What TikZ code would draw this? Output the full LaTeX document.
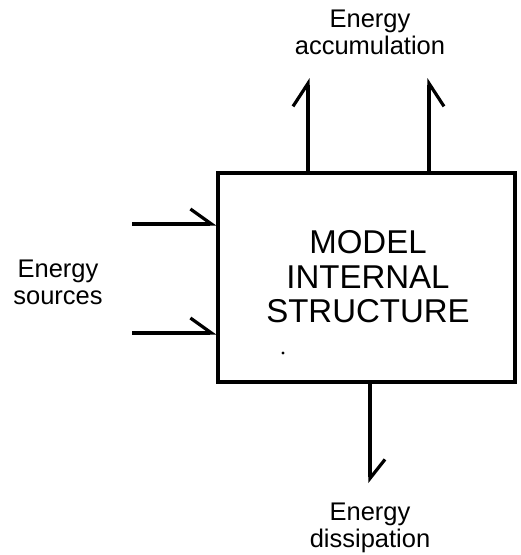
\documentclass[tikz,border=0pt]{standalone}
\usepackage{fontspec}
\setmainfont{Liberation Sans}
\usetikzlibrary{arrows.meta}
\begin{document}
\begin{tikzpicture}[x=1pt,y=-1pt,
  line/.style={line width=3.2pt},
  harpL/.style={line, -{Straight Barb[left,length=#1,width=2*15pt,line width=3.2pt]}},
  harpR/.style={line, -{Straight Barb[right,length=#1,width=2*15pt,line width=3.2pt]}},
  lbl/.style={align=center, font=\fontsize{25.5}{27}\selectfont, inner sep=0pt},
  boxtxt/.style={align=center, font=\fontsize{33}{34.5}\selectfont, inner sep=0pt}]
\useasboundingbox (0,0) rectangle (521,555);
\node[draw, line width=3.2pt, minimum width=297pt, minimum height=209pt, inner sep=0pt] (box) at (366.5,277.5) {};
\node[boxtxt] (bt) at (368,277) {MODEL\\INTERNAL\\STRUCTURE};
\coordinate (s1) at (132,224);
\coordinate (s2) at (132,333);
\coordinate (a1) at (308,78);
\coordinate (a2) at (429,78);
\coordinate (d1) at (370,483);
\draw[harpL=21pt] (s1) -- (s1 -| box.west);
\draw[harpL=21pt] (s2) -- (s2 -| box.west);
\draw[harpL=23pt] (box.north -| a1) -- (a1);
\draw[harpR=23pt] (box.north -| a2) -- (a2);
\draw[harpL=19pt] (box.south -| d1) -- (d1);
\node[lbl] (acc) at (370,32) {Energy\\accumulation};
\node[lbl] (src) at (58,282) {Energy\\sources};
\node[lbl] (dis) at (370,528) {Energy\\dissipation};
\fill (283,353) circle (1.6pt);
\end{tikzpicture}
\end{document}
